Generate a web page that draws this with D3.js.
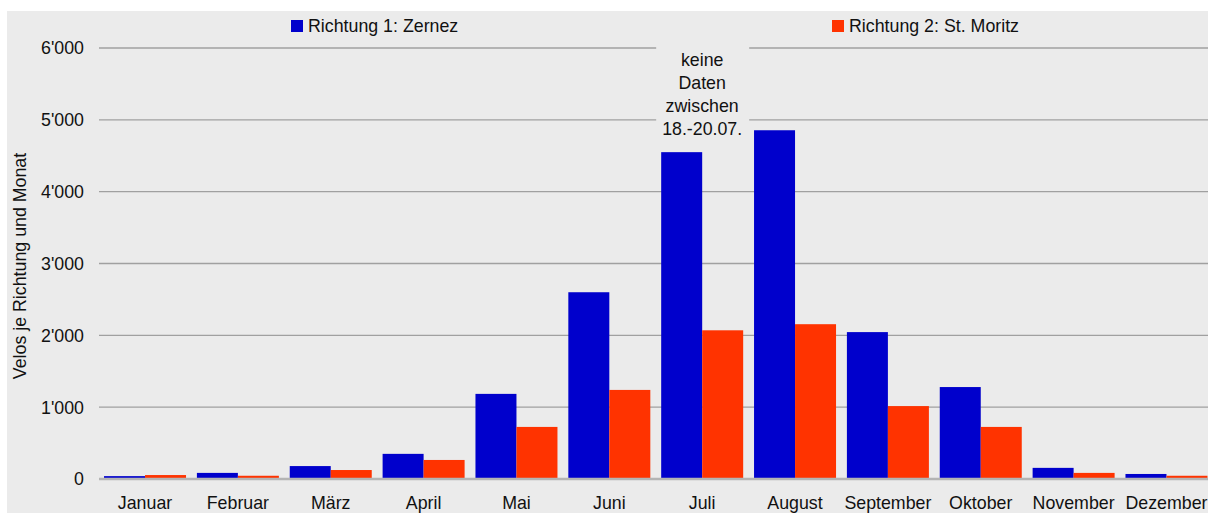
<!DOCTYPE html>
<html>
<head>
<meta charset="utf-8">
<script src="https://cdn.jsdelivr.net/npm/d3@7"></script>
<style>
  body { margin: 0; background: #fff; }
  text { font-family: "Liberation Sans", Arial, sans-serif; fill: #111; }
</style>
</head>
<body>
<svg width="1208" height="513"></svg>
<script>
const months = ["Januar", "Februar", "März", "April", "Mai", "Juni", "Juli", "August", "September", "Oktober", "November", "Dezember"];
const zernez = [40, 85, 180, 350, 1185, 2600, 4550, 4855, 2045, 1280, 155, 70];
const moritz = [55, 45, 125, 265, 725, 1240, 2070, 2155, 1015, 725, 85, 45];
const seriesNames = ["Richtung 1: Zernez", "Richtung 2: St. Moritz"];
const yTicks = [0, 1000, 2000, 3000, 4000, 5000, 6000];
const noteLines = ["keine", "Daten", "zwischen", "18.-20.07."];

const svg = d3.select("svg");
const colors = ["#0000cc", "#ff3300"];
const fs = 17.8;

svg.append("rect")
    .attr("x", 7).attr("y", 11)
    .attr("width", 1201).attr("height", 502)
    .attr("fill", "#ebebeb");

const y = d3.scaleLinear().domain([0, 6000]).range([479, 48]);
const x = d3.scaleBand().domain(months).range([98.6, 1212.9])
    .paddingInner(0.117).paddingOuter(0.0585);
const xs = d3.scaleBand().domain([0, 1]).range([0, x.bandwidth()]);

const fmt = v => d3.format(",")(v).replace(/,/g, "'");

// gridlines
svg.append("g").selectAll("line")
    .data(yTicks.filter(d => d > 0))
    .join("line")
    .attr("x1", 99).attr("x2", 1208)
    .attr("y1", d => y(d)).attr("y2", d => y(d))
    .attr("stroke", "#a0a0a0").attr("stroke-width", 1.3);

// y tick labels
svg.append("g").selectAll("text")
    .data(yTicks)
    .join("text")
    .attr("x", 84).attr("y", d => y(d))
    .attr("dy", "0.36em")
    .attr("text-anchor", "end")
    .attr("font-size", fs)
    .text(fmt);

// bars
[zernez, moritz].forEach((vals, s) => {
  svg.append("g").selectAll("rect")
      .data(vals)
      .join("rect")
      .attr("x", (d, i) => x(months[i]) + xs(s))
      .attr("width", xs.bandwidth())
      .attr("y", d => y(d))
      .attr("height", d => y(0) - y(d))
      .attr("fill", colors[s]);
});

// zero line
svg.append("line")
    .attr("x1", 99).attr("x2", 1208)
    .attr("y1", y(0)).attr("y2", y(0))
    .attr("stroke", "#b4b4b4").attr("stroke-width", 2.5);

// x labels
svg.append("g").selectAll("text")
    .data(months)
    .join("text")
    .attr("x", d => x(d) + x.bandwidth() / 2)
    .attr("y", 509)
    .attr("text-anchor", "middle")
    .attr("font-size", fs)
    .text(d => d);

// y axis title
svg.append("text")
    .attr("transform", "translate(26,266) rotate(-90)")
    .attr("text-anchor", "middle")
    .attr("font-size", fs)
    .text("Velos je Richtung und Monat");

// legend
const legendX = [291, 832];
seriesNames.forEach((name, i) => {
  svg.append("rect")
      .attr("x", legendX[i]).attr("y", 20)
      .attr("width", 12).attr("height", 12)
      .attr("fill", colors[i]);
  svg.append("text")
      .attr("x", legendX[i] + 17).attr("y", 32)
      .attr("font-size", fs)
      .text(name);
});

// annotation over Juli
const noteX = x("Juli") + x.bandwidth() / 2;
svg.append("rect")
    .attr("x", noteX - 46).attr("y", 41)
    .attr("width", 93).attr("height", 100)
    .attr("fill", "#ebebeb");
svg.append("g").selectAll("text")
    .data(noteLines)
    .join("text")
    .attr("x", noteX)
    .attr("y", (d, i) => 66 + i * 23)
    .attr("text-anchor", "middle")
    .attr("font-size", fs)
    .text(d => d);
</script>
</body>
</html>
